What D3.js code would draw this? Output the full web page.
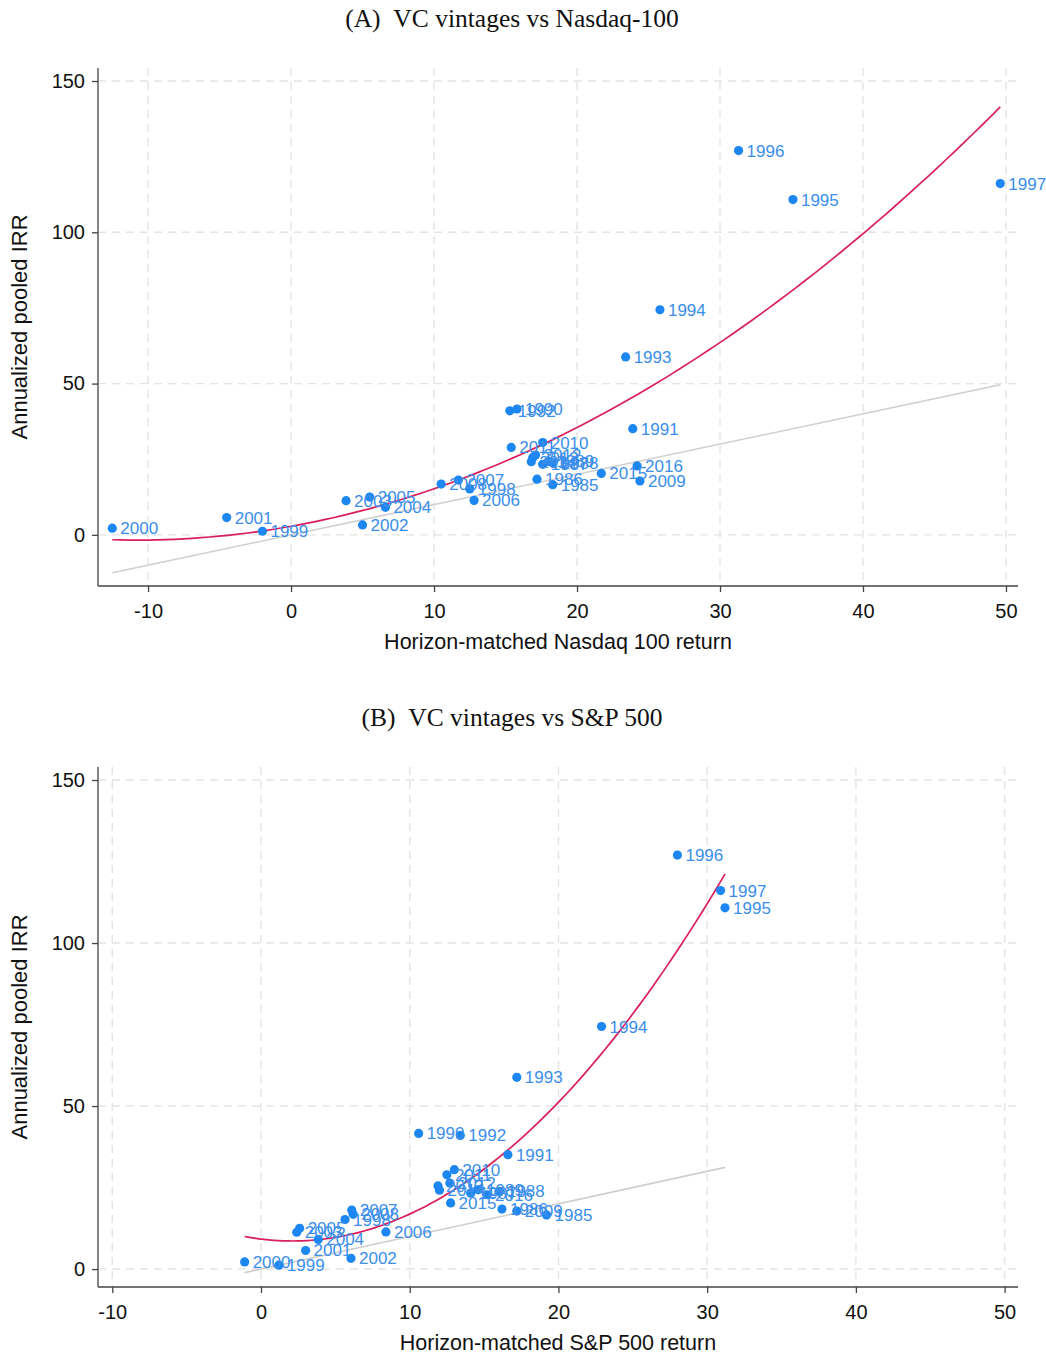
<!DOCTYPE html>
<html>
<head>
<meta charset="utf-8">
<script src="https://cdn.jsdelivr.net/npm/d3@7"></script>
<style>
body { margin: 0; background: #fff; }
svg text { font-family: "Liberation Sans", Arial, sans-serif; }
</style>
</head>
<body>
<div id="chart"></div>
<script>
// vintage years and pooled IRR (same in both panels)
var vintages = [1985,1986,1987,1988,1989,1990,1991,1992,1993,1994,1995,1996,1997,1998,1999,2000,
                2001,2002,2003,2004,2005,2006,2007,2008,2009,2010,2011,2012,2013,2014,2015,2016];
var irr = [16.6,18.4,23.3,23.8,24.3,41.6,35.1,41.0,58.8,74.4,110.8,127.0,116.1,15.2,1.2,2.2,
           5.7,3.3,11.3,9.1,12.5,11.4,18.1,16.8,17.8,30.5,28.9,26.4,25.5,24.2,20.3,22.8];
// horizon-matched index returns
var nasdaq = [18.3,17.2,17.6,18.3,18.0,15.8,23.9,15.3,23.4,25.8,35.1,31.3,49.6,12.5,-2.0,-12.5,
              -4.5,5.0,3.85,6.6,5.5,12.8,11.7,10.5,24.4,17.6,15.4,17.1,16.9,16.8,21.7,24.2];
var sp500 = [19.2,16.2,14.1,16.0,14.6,10.6,16.6,13.4,17.2,22.9,31.2,28.0,30.9,5.65,1.2,-1.1,
             3.0,6.05,2.4,3.85,2.6,8.4,6.1,6.2,17.2,13.0,12.5,12.7,11.9,12.0,12.75,15.2];

var xTicks = [-10,0,10,20,30,40,50];
var yTicks = [0,50,100,150];

var W = 1046, H = 1355;
var svg = d3.select("#chart").append("svg")
    .attr("width", W)
    .attr("height", H);
svg.append("rect").attr("width", W).attr("height", H).attr("fill", "#fff");

// least squares quadratic fit y = a + b x + c x^2
function qfit(xs, ys) {
    var S = [[0,0,0],[0,0,0],[0,0,0]], T = [0,0,0];
    for (var i = 0; i < xs.length; i++) {
        var p = [1, xs[i], xs[i]*xs[i]];
        for (var r = 0; r < 3; r++) {
            T[r] += p[r]*ys[i];
            for (var c = 0; c < 3; c++) S[r][c] += p[r]*p[c];
        }
    }
    // gaussian elimination
    for (var k = 0; k < 3; k++) {
        for (var r2 = k+1; r2 < 3; r2++) {
            var f = S[r2][k]/S[k][k];
            for (var c2 = k; c2 < 3; c2++) S[r2][c2] -= f*S[k][c2];
            T[r2] -= f*T[k];
        }
    }
    var b = [0,0,0];
    for (var k2 = 2; k2 >= 0; k2--) {
        var s = T[k2];
        for (var j = k2+1; j < 3; j++) s -= S[k2][j]*b[j];
        b[k2] = s/S[k2][k2];
    }
    return b;
}

function panel(opt) {
    var g = svg.append("g");
    var x = d3.scaleLinear().domain(opt.xdom).range([98, 1018]);
    var y = d3.scaleLinear().domain(opt.ydom).range([opt.bottom, opt.top]);

    // grid
    g.selectAll(".gx").data(xTicks).enter().append("line")
        .attr("x1", function(d) { return x(d); }).attr("x2", function(d) { return x(d); })
        .attr("y1", opt.top).attr("y2", opt.bottom)
        .attr("stroke", "#e4e4e4").attr("stroke-width", 1.4).attr("stroke-dasharray", "8,6");
    g.selectAll(".gy").data(yTicks).enter().append("line")
        .attr("x1", 98).attr("x2", 1022)
        .attr("y1", function(d) { return y(d); }).attr("y2", function(d) { return y(d); })
        .attr("stroke", "#e4e4e4").attr("stroke-width", 1.4).attr("stroke-dasharray", "8,6");

    // axes
    var fmt = function(d) { return String(d); };
    var ax = g.append("g").attr("transform", "translate(0," + opt.bottom + ")")
        .call(d3.axisBottom(x).tickValues(xTicks).tickSize(6).tickPadding(12).tickFormat(fmt));
    var ay = g.append("g").attr("transform", "translate(98,0)")
        .call(d3.axisLeft(y).tickValues(yTicks).tickSize(6).tickPadding(7).tickFormat(fmt));
    [ax, ay].forEach(function(a) {
        a.select(".domain").attr("stroke", "#444").attr("stroke-width", 1.3);
        a.selectAll(".tick line").attr("stroke", "#444").attr("stroke-width", 1.3);
        a.selectAll(".tick text").attr("font-size", 20).attr("fill", "#111")
            .attr("font-family", "Liberation Sans, Arial, sans-serif");
    });
    ax.select(".domain").attr("d", "M98,0H1018");
    ay.select(".domain").attr("d", "M0," + opt.top + "V" + opt.bottom);

    var xs = opt.xs;
    var ext = d3.extent(xs);

    // 45 degree line
    g.append("line")
        .attr("x1", x(ext[0])).attr("y1", y(ext[0]))
        .attr("x2", x(ext[1])).attr("y2", y(ext[1]))
        .attr("stroke", "#cfcfcf").attr("stroke-width", 1.6);

    // quadratic fit
    var cf = qfit(xs, irr);
    var grid = d3.range(0, 101).map(function(i) { return ext[0] + (ext[1]-ext[0])*i/100; });
    g.append("path")
        .datum(grid)
        .attr("fill", "none")
        .attr("stroke", "#d81e5b")
        .attr("stroke-width", 1.7)
        .attr("d", d3.line()
            .x(function(d) { return x(d); })
            .y(function(d) { return y(cf[0] + cf[1]*d + cf[2]*d*d); }));

    // points + labels
    var pts = vintages.map(function(v, i) { return {v: v, x: xs[i], y: irr[i]}; });
    g.selectAll(".dot").data(pts).enter().append("circle")
        .attr("cx", function(d) { return x(d.x); })
        .attr("cy", function(d) { return y(d.y); })
        .attr("r", 4.6)
        .attr("fill", "#1c86f2");
    g.selectAll(".lab").data(pts).enter().append("text")
        .attr("x", function(d) { return x(d.x) + 8; })
        .attr("y", function(d) { return y(d.y) + 6; })
        .attr("font-size", 17)
        .attr("fill", "#3b8eea")
        .text(function(d) { return d.v; });

    // titles
    svg.append("text")
        .attr("x", 512).attr("y", opt.top - 41)
        .attr("text-anchor", "middle")
        .style("font-family", "'Liberation Serif', serif")
        .attr("font-size", 25.5)
        .attr("fill", "#111")
        .text(opt.title);
    svg.append("text")
        .attr("x", 558).attr("y", opt.bottom + 63)
        .attr("text-anchor", "middle")
        .attr("font-size", 21.5)
        .attr("fill", "#111")
        .text(opt.xlab);
    svg.append("text")
        .attr("transform", "translate(27," + ((opt.top + opt.bottom)/2) + ") rotate(-90)")
        .attr("text-anchor", "middle")
        .attr("font-size", 22)
        .attr("fill", "#111")
        .text("Annualized pooled IRR");
}

panel({
    top: 68, bottom: 586,
    xdom: [-13.5, 50.84], ydom: [-16.9, 154.3],
    xs: nasdaq,
    title: "(A)\u00a0\u00a0VC vintages vs Nasdaq-100",
    xlab: "Horizon-matched Nasdaq 100 return"
});
panel({
    top: 767, bottom: 1287,
    xdom: [-10.96, 50.9], ydom: [-5.5, 154.0],
    xs: sp500,
    title: "(B)\u00a0\u00a0VC vintages vs S&P 500",
    xlab: "Horizon-matched S&P 500 return"
});
</script>
</body>
</html>
